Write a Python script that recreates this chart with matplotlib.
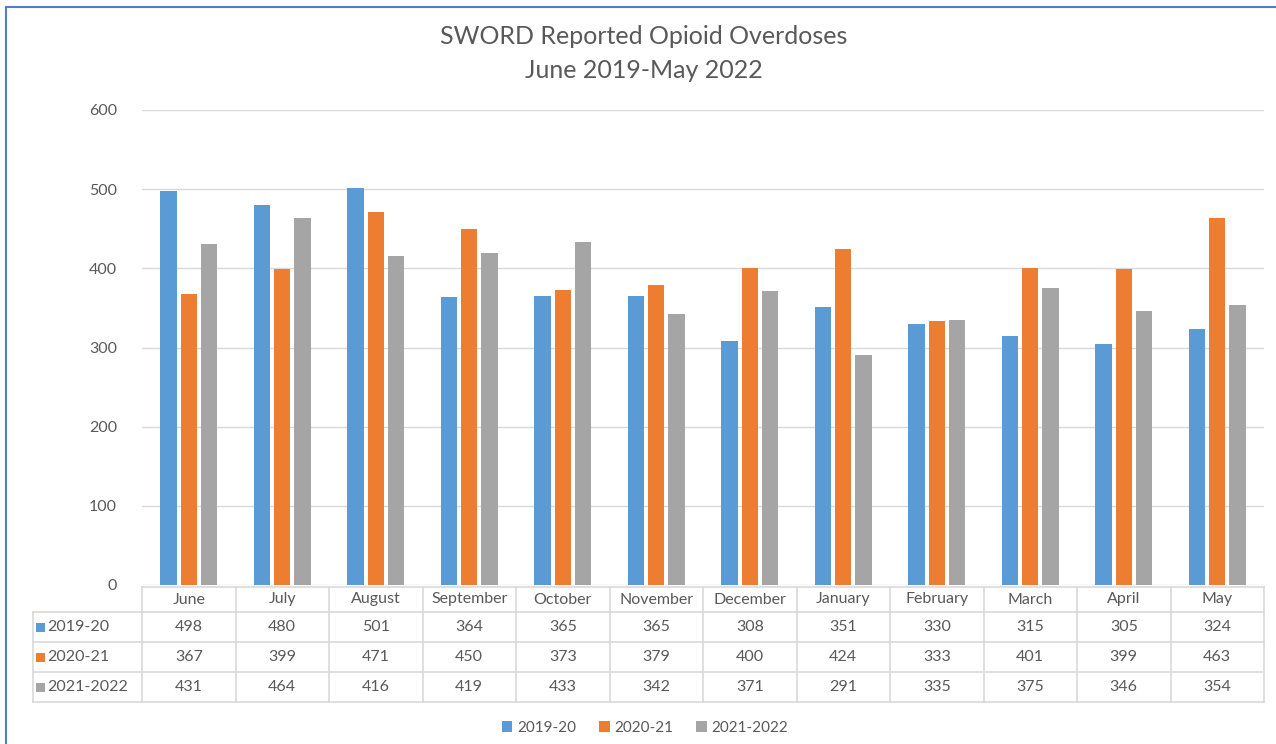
import matplotlib
matplotlib.use("Agg")
import matplotlib.pyplot as plt
from matplotlib.lines import Line2D
from matplotlib.patches import Rectangle
import matplotlib.transforms as mtransforms
import numpy as np

months = ["June", "July", "August", "September", "October", "November",
          "December", "January", "February", "March", "April", "May"]
series_names = ["2019-20", "2020-21", "2021-2022"]
s2019 = [498, 480, 501, 364, 365, 365, 308, 351, 330, 315, 305, 324]
s2020 = [367, 399, 471, 450, 373, 379, 400, 424, 333, 401, 399, 463]
s2021 = [431, 464, 416, 419, 433, 342, 371, 291, 335, 375, 346, 354]
yticks = [0, 100, 200, 300, 400, 500, 600]

colors = ["#5B9BD5", "#ED7D31", "#A5A5A5"]
txt = "#595959"
grid = "#D9D9D9"
plt.rcParams['font.family'] = ['Lato', 'DejaVu Sans']

W, H = 1276, 744
fig = plt.figure(figsize=(W / 100, H / 100), dpi=100)
fig.patch.set_facecolor("white")

def fx(px):
    return px / W

def fy(py):
    return 1 - py / H

left, right, top, bottom = 142, 1264, 110, 585
ax = fig.add_axes([fx(left), fy(bottom), fx(right - left), (bottom - top) / H])
x = np.arange(len(months))
bw = 0.175
gap = 0.04
data = [s2019, s2020, s2021]
for i, (vals, c, n) in enumerate(zip(data, colors, series_names)):
    ax.bar(x + (i - 1) * (bw + gap), vals, width=bw, color=c, label=n, zorder=3)
ax.set_xlim(-0.5, len(months) - 0.5)
ax.set_ylim(0, 600)
ax.set_yticks(yticks)
ax.yaxis.grid(True, color=grid, linewidth=1.0, zorder=0)
ax.tick_params(axis='y', length=0, pad=18, labelcolor=txt, labelsize=11.5)
ax.tick_params(axis='x', length=0, labelbottom=False)
for s in ax.spines.values():
    s.set_visible(False)

# Title
fig.text(fx(644), fy(36), "SWORD Reported Opioid Overdoses", ha="center", va="center",
         fontsize=18, color=txt)
fig.text(fx(644), fy(71), "June 2019-May 2022", ha="center", va="center",
         fontsize=18, color=txt)

# Data table
tr = mtransforms.blended_transform_factory(ax.transData, fig.transFigure)
row_y = [587, 612, 642, 672, 702]
tbl_left = 33
fig.add_artist(Line2D([fx(left), fx(right)], [fy(row_y[0])] * 2, color=grid, lw=1.2))
for ry in row_y[1:]:
    fig.add_artist(Line2D([fx(tbl_left), fx(right)], [fy(ry)] * 2, color=grid, lw=1.2))
for k in range(len(months) + 1):
    xv = k - 0.5
    fig.add_artist(Line2D([xv, xv], [fy(row_y[0]), fy(row_y[-1])], color=grid, lw=1.2,
                          transform=tr))
fig.add_artist(Line2D([fx(tbl_left)] * 2, [fy(row_y[1]), fy(row_y[-1])], color=grid, lw=1.2))

fs = 11.5
for k, m in enumerate(months):
    fig.text(k, fy((row_y[0] + row_y[1]) / 2), m, transform=tr, ha="center", va="center",
             fontsize=fs, color=txt)
for r, (vals, c, n) in enumerate(zip(data, colors, series_names)):
    yc = fy((row_y[r + 1] + row_y[r + 2]) / 2)
    fig.add_artist(Rectangle((fx(36), yc - 4.5 / H), 9 / W, 9 / H, transform=fig.transFigure,
                             facecolor=c, edgecolor="none"))
    fig.text(fx(47), yc, n, ha="left", va="center", fontsize=fs, color=txt)
    for k, v in enumerate(vals):
        fig.text(k, yc, str(v), transform=tr, ha="center", va="center", fontsize=fs, color=txt)

# Legend
handles = [Rectangle((0, 0), 1, 1, facecolor=c, edgecolor="none") for c in colors]
fig.legend(handles, series_names, loc="center", bbox_to_anchor=(fx(645), fy(728)), ncol=3,
           frameon=False, fontsize=11, handlelength=0.7, handleheight=0.7, handletextpad=0.3,
           columnspacing=1.5, labelcolor=txt)

# Frame (blue border of the chart object)
fig.add_artist(Line2D([fx(6), fx(6)], [fy(8), 0], color="#4F81BD", lw=1.5))
fig.add_artist(Line2D([fx(6), 1], [fy(7), fy(7)], color="#4F81BD", lw=1.5))

fig.savefig("out.png", dpi=100, facecolor="white")
